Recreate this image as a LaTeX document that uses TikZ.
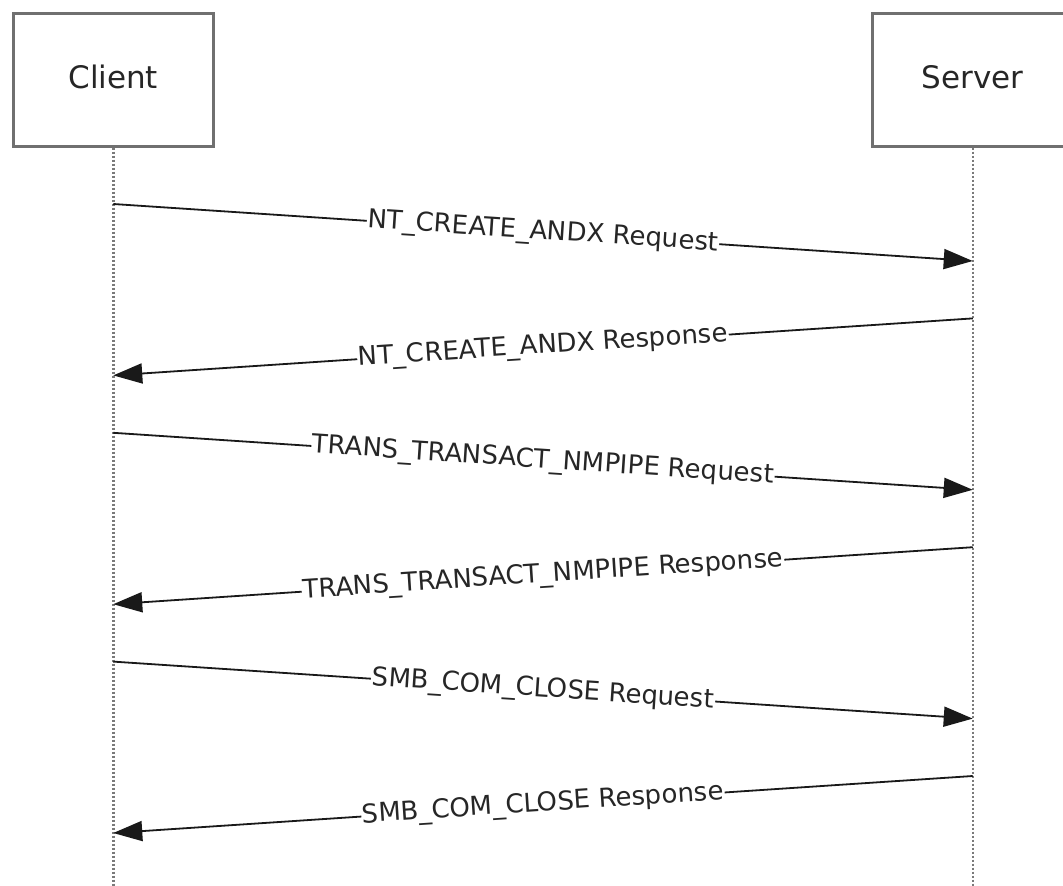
\documentclass[tikz,border=0pt]{standalone}
\usepackage{fontspec}
\setmainfont{DejaVu Sans}
\usetikzlibrary{arrows.meta}
\definecolor{boxgray}{HTML}{707070}
\definecolor{lifegray}{HTML}{7A7A7A}
\definecolor{txt}{HTML}{262626}
\begin{document}
\begin{tikzpicture}[x=1pt,y=-1pt,
  actor/.style={draw=boxgray, line width=3pt, fill=white, minimum width=200.5pt, minimum height=132.5pt, inner sep=0pt, text height=23.5pt, text depth=7pt, font=\fontsize{31}{36}\selectfont, text=txt},
  life/.style={draw=lifegray, line width=2.5pt, dash pattern=on 2pt off 2pt},
  msg/.style={line width=1.8pt, draw=black!90, -{Triangle[length=29pt,width=20pt]}},
  lbl/.style={sloped, fill=white, inner sep=1pt, font=\fontsize{26}{30}\selectfont, text=txt}]
\useasboundingbox (0,0) rectangle (1063,886);
\fill[white] (0,0) rectangle (1063,886);
\node[actor] (client) at (113.25,79.75) {Client};
\node[actor] (server) at (972.75,79.75) {Server};
\coordinate (cend) at (113.25,890);
\coordinate (send) at (972.75,890);
\draw[life] (client.south) -- (cend);
\draw[life] (server.south) -- (send);
% message end points
\coordinate (c1) at (113.25,204);   \coordinate (s1) at (972.75,261);
\coordinate (s2) at (972.75,318.4); \coordinate (c2) at (113.25,375.4);
\coordinate (c3) at (113.25,432.8); \coordinate (s3) at (972.75,489.8);
\coordinate (s4) at (972.75,547.2); \coordinate (c4) at (113.25,604.2);
\coordinate (c5) at (113.25,661.6); \coordinate (s5) at (972.75,718.6);
\coordinate (s6) at (972.75,776);   \coordinate (c6) at (113.25,833);
\draw[msg] (c1) -- node[lbl] (l1) {NT\_CREATE\_ANDX Request} (s1);
\draw[msg] (s2) -- node[lbl] (l2) {NT\_CREATE\_ANDX Response} (c2);
\draw[msg] (c3) -- node[lbl] (l3) {TRANS\_TRANSACT\_NMPIPE Request} (s3);
\draw[msg] (s4) -- node[lbl] (l4) {TRANS\_TRANSACT\_NMPIPE Response} (c4);
\draw[msg] (c5) -- node[lbl] (l5) {SMB\_COM\_CLOSE Request} (s5);
\draw[msg] (s6) -- node[lbl] (l6) {SMB\_COM\_CLOSE Response} (c6);
\end{tikzpicture}
\end{document}
